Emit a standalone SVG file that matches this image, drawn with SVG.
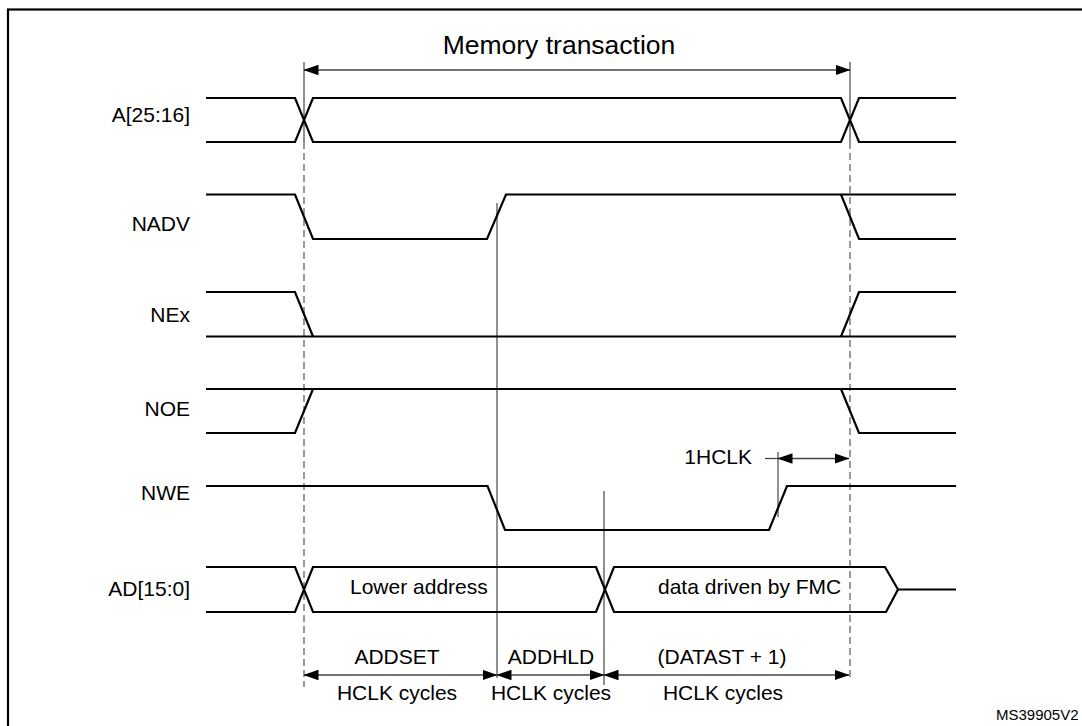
<svg xmlns="http://www.w3.org/2000/svg" width="1082" height="726" viewBox="0 0 1082 726">
<style>
.sig{fill:none;stroke:#000;stroke-width:2.2;stroke-linejoin:miter}
.ref{fill:none;stroke:#555;stroke-width:1.3}
.dash{fill:none;stroke:#666;stroke-width:1.3;stroke-dasharray:7 4}
.dim{fill:none;stroke:#444;stroke-width:1.3}
.lbl{font-family:"Liberation Sans",Arial,sans-serif;font-size:21px;fill:#000}
</style>
<defs>
<marker id="ah" markerUnits="userSpaceOnUse" markerWidth="15" markerHeight="11" refX="14.5" refY="5.25" orient="auto-start-reverse" viewBox="0 0 15 11">
<path d="M0,0 L15,5.25 L0,10.5 z" fill="#000"/>
</marker>
</defs>
<rect x="8" y="9.5" width="1200" height="800" fill="#fff" stroke="#000" stroke-width="2.2"/>

<g id="connectors">
<line class="ref" x1="304" y1="62" x2="304" y2="142"/>
<line class="dash" x1="304" y1="142" x2="304" y2="687"/>
<line class="ref" x1="850" y1="62" x2="850" y2="142"/>
<line class="dash" x1="850" y1="142" x2="850" y2="680"/>
<line class="ref" x1="497" y1="203" x2="497" y2="678"/>
<line class="ref" x1="604" y1="491" x2="604" y2="685"/>
<line class="ref" x1="778" y1="452" x2="778" y2="517"/>
<line class="dim" x1="304" y1="70" x2="850" y2="70" marker-start="url(#ah)" marker-end="url(#ah)"/>
<line class="dim" x1="765" y1="458.5" x2="778" y2="458.5"/>
<line class="dim" x1="778" y1="458.5" x2="849" y2="458.5" marker-start="url(#ah)" marker-end="url(#ah)"/>
<line class="dim" x1="304" y1="675" x2="497" y2="675" marker-start="url(#ah)" marker-end="url(#ah)"/>
<line class="dim" x1="497" y1="675" x2="604" y2="675" marker-start="url(#ah)" marker-end="url(#ah)"/>
<line class="dim" x1="604" y1="675" x2="849" y2="675" marker-start="url(#ah)" marker-end="url(#ah)"/>
</g>

<g id="title">
<text class="lbl" x="559" y="54" text-anchor="middle" style="font-size:26.5px">Memory transaction</text>
</g>

<g id="sig-A">
<text class="lbl" x="190" y="122" text-anchor="end">A[25:16]</text>
<path class="sig" d="M206,98 H295 L313,142 H841 L859,98 H956"/>
<path class="sig" d="M206,142 H295 L313,98 H841 L859,142 H956"/>
</g>

<g id="sig-NADV">
<text class="lbl" x="190" y="231" text-anchor="end">NADV</text>
<path class="sig" d="M206,194.5 H295 L313,239 H487 L506,194.5 H956"/>
<path class="sig" d="M841,194.5 L859,239 H956"/>
</g>

<g id="sig-NEx">
<text class="lbl" x="190" y="322" text-anchor="end">NEx</text>
<path class="sig" d="M206,292 H295 L313,336.5"/>
<path class="sig" d="M206,336.5 H956"/>
<path class="sig" d="M841,336.5 L859,292 H956"/>
</g>

<g id="sig-NOE">
<text class="lbl" x="190" y="416" text-anchor="end">NOE</text>
<path class="sig" d="M206,433 H295 L313,389"/>
<path class="sig" d="M206,389 H956"/>
<path class="sig" d="M841,389 L859,433 H956"/>
</g>

<g id="sig-NWE">
<text class="lbl" x="190" y="500" text-anchor="end">NWE</text>
<path class="sig" d="M206,486 H487.5 L505,530 H769 L787,486 H956"/>
<text class="lbl" x="752" y="464" text-anchor="end">1HCLK</text>
</g>

<g id="sig-AD">
<text class="lbl" x="190" y="596" text-anchor="end">AD[15:0]</text>
<path class="sig" d="M206,567 H295 L313,612 H596 L614,567 H885 L898,589.5 L886,612 H614 L596,567 H313 L295,612 H206"/>
<path class="sig" d="M898,589.5 H956"/>
<text class="lbl" x="350" y="593.5">Lower address</text>
<text class="lbl" x="658" y="593.5">data driven by FMC</text>
</g>

<g id="timing-labels">
<text class="lbl" x="397" y="664" text-anchor="middle">ADDSET</text>
<text class="lbl" x="397" y="700" text-anchor="middle">HCLK cycles</text>
<text class="lbl" x="551" y="664" text-anchor="middle">ADDHLD</text>
<text class="lbl" x="551" y="700" text-anchor="middle">HCLK cycles</text>
<text class="lbl" x="722" y="664" text-anchor="middle">(DATAST + 1)</text>
<text class="lbl" x="723" y="700" text-anchor="middle">HCLK cycles</text>
</g>

<text class="lbl" x="996" y="720" style="font-size:15px">MS39905V2</text>
</svg>
